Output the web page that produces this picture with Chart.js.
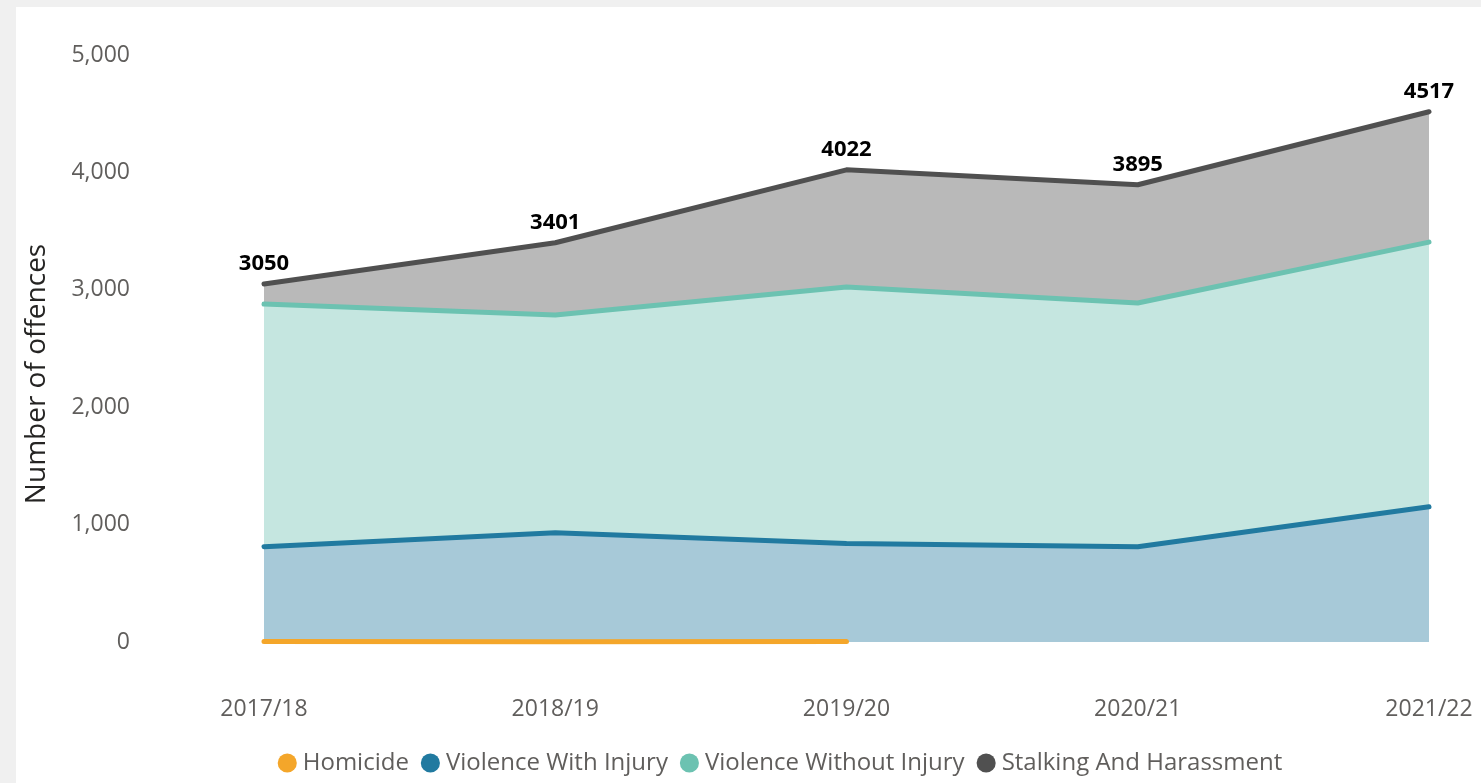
<!DOCTYPE html>
<html>
<head>
<meta charset="utf-8">
<script src="https://cdn.jsdelivr.net/npm/chart.js@4.4.1/dist/chart.umd.min.js"></script>
<style>
  html, body { margin: 0; padding: 0; background: #f0f0f0; }
  #panel { position: absolute; left: 16px; top: 7px; width: 1465px; height: 776px; background: #ffffff; }
  #panel canvas { display: block; }
</style>
</head>
<body>
<div id="panel"><canvas id="c" width="1465" height="776"></canvas></div>
<script>
// ---- data ----
const categories = ['2017/18', '2018/19', '2019/20', '2020/21', '2021/22'];
const seriesNames = ['Homicide', 'Violence With Injury', 'Violence Without Injury', 'Stalking And Harassment'];
const homicide = [4, 3, 5, null, null];
const violenceWithInjury = [808, 928, 833, 812, 1152];
const violenceWithoutInjury = [2066, 1854, 2185, 2075, 2254];
const stalkingHarassment = [172, 616, 999, 1008, 1111];
const yTicks = [0, 1000, 2000, 3000, 4000, 5000];

const lineColors = ['#F4A62A', '#217AA0', '#6CC2B1', '#505050'];
const fillColors = ['rgba(244,166,42,0.4)', '#A7C9D8', '#C5E6E0', '#B9B9B9'];

const allSeries = [homicide, violenceWithInjury, violenceWithoutInjury, stalkingHarassment];
const totals = categories.map((_, i) => allSeries.reduce((s, arr) => s + (arr[i] == null ? 0 : arr[i]), 0));

const FONT = "'Open Sans', 'Noto Sans', sans-serif";

const totalLabels = {
  id: 'totalLabels',
  afterDatasetsDraw(chart) {
    const meta = chart.getDatasetMeta(3);
    const ctx = chart.ctx;
    ctx.save();
    ctx.font = "bold 22px " + FONT;
    ctx.fillStyle = '#000000';
    ctx.textAlign = 'center';
    ctx.textBaseline = 'alphabetic';
    meta.data.forEach((pt, i) => {
      ctx.fillText(String(totals[i]), pt.x, pt.y - 14);
    });
    ctx.restore();
  }
};

const legendShift = {
  id: 'legendShift',
  afterLayout(chart) {
    const lg = chart.legend;
    if (!lg || !lg.lineWidths) return;
    const pad = lg.options.labels.padding;
    const lw = lg.lineWidths[0];
    const targetCenter = 764; // canvas px
    const cursorX = targetCenter - (lw - pad - 6) / 2;
    lg.left = cursorX - pad;
    lg.right = lg.left + 3000;
    lg.top += 2;
    lg.bottom += 2;
  }
};

const datasets = allSeries.map((arr, k) => ({
  label: seriesNames[k],
  data: arr,
  borderColor: lineColors[k],
  backgroundColor: fillColors[k],
  borderWidth: 5,
  pointRadius: 0,
  pointHoverRadius: 0,
  tension: 0,
  borderCapStyle: 'round',
  borderJoinStyle: 'round',
  fill: k === 0 ? false : (k === 1 ? 'origin' : '-1'),
  spanGaps: false,
  clip: false
}));

new Chart(document.getElementById('c'), {
  type: 'line',
  data: { labels: categories, datasets },
  options: {
    responsive: false,
    animation: false,
    events: [],
    layout: { padding: { top: 48, right: 52, bottom: 0, left: 0 } },
    plugins: {
      tooltip: { enabled: false },
      legend: {
        position: 'bottom',
        align: 'start',
        labels: {
          usePointStyle: true,
          pointStyle: 'circle',
          boxWidth: 7,
          boxHeight: 13.5,
          padding: 18,
          color: '#605E5C',
          font: { family: FONT, size: 24 },
          generateLabels(chart) {
            const items = Chart.defaults.plugins.legend.labels.generateLabels(chart);
            items.forEach((it, i) => {
              it.fillStyle = lineColors[i];
              it.strokeStyle = lineColors[i];
              it.lineWidth = 0;
              it.pointStyle = 'circle';
            });
            return items;
          }
        }
      }
    },
    scales: {
      x: {
        type: 'category',
        offset: false,
        grid: { display: false, drawTicks: false },
        border: { display: false },
        ticks: { color: '#605E5C', font: { family: FONT, size: 23 }, padding: 54, maxRotation: 0, autoSkip: false },
        afterFit(scale) {
          scale.height = 89;
          scale.paddingLeft = 0;
          scale.paddingRight = 0;
        }
      },
      y: {
        stacked: true,
        min: 0,
        max: 5000,
        grid: { display: false, drawTicks: false },
        border: { display: false },
        afterBuildTicks(scale) { scale.ticks = yTicks.map(v => ({ value: v })); },
        ticks: { color: '#605E5C', font: { family: FONT, size: 23 }, padding: 134 },
        title: {
          display: true,
          text: 'Number of offences\u00a0\u00a0\u00a0\u00a0\u00a0\u00a0\u00a0',
          color: '#252423',
          font: { family: FONT, size: 28 },
          padding: { top: 4, bottom: 4 }
        },
        afterFit(scale) {
          scale.width = 248;
          scale.paddingTop = 0;
          scale.paddingBottom = 0;
        }
      }
    }
  },
  plugins: [totalLabels, legendShift]
});
</script>
</body>
</html>
